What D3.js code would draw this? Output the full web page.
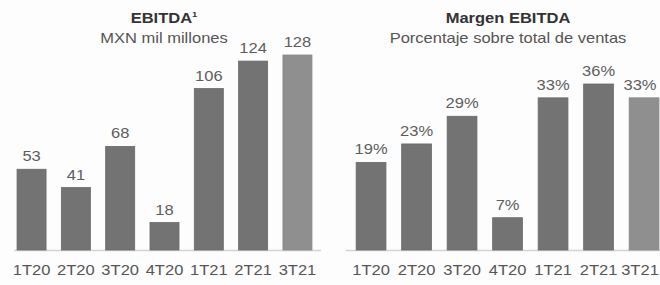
<!DOCTYPE html>
<html>
<head>
<meta charset="utf-8">
<script src="https://cdn.jsdelivr.net/npm/d3@7"></script>
<style>
  body { margin: 0; background: #fdfdfd; }
  svg text { font-family: "Liberation Sans", Arial, sans-serif; }
</style>
</head>
<body>
<svg id="chart" width="660" height="285"></svg>
<script>
// data
const quarters = ["1T20", "2T20", "3T20", "4T20", "1T21", "2T21", "3T21"];
const ebitda = [53, 41, 68, 18, 106, 124, 128];
const margen = [19, 23, 29, 7, 33, 36, 33];
const margenLabels = ["19%", "23%", "29%", "7%", "33%", "36%", "33%"];

const svg = d3.select("#chart");
const W = 660;
const stretch = 1.18; // text in the picture is a bit wide
const baseY = 250;

// helper - text with horizontal stretch around its anchor
function addText(g, x, y, str, size, fill, weight){
    return g.append("text")
        .attr("transform", "translate(" + x + "," + y + ") scale(" + stretch + ",1)")
        .attr("text-anchor", "middle")
        .attr("font-size", size)
        .attr("font-weight", weight || "normal")
        .attr("fill", fill)
        .text(str);
}

function barPanel(opts){
    const g = svg.append("g");
    const x = d3.scaleBand()
        .domain(quarters)
        .range(opts.xRange)
        .paddingInner(0.345)
        .paddingOuter(0.1725);
    const y = d3.scaleLinear()
        .domain([0, opts.max])
        .range([baseY, opts.top]);

    // baseline
    g.append("line")
        .attr("x1", opts.lineX[0]).attr("x2", opts.lineX[1])
        .attr("y1", baseY + 0.5).attr("y2", baseY + 0.5)
        .attr("stroke", "#d4d4d4")
        .attr("stroke-width", 1.5);

    g.selectAll("rect.bar")
        .data(opts.values)
        .join("rect")
            .attr("class", "bar")
            .attr("x", (d, i) => x(quarters[i]))
            .attr("y", d => y(d))
            .attr("width", x.bandwidth())
            .attr("height", d => baseY - y(d))
            .attr("fill", (d, i) => i === quarters.length - 1 ? "#8f8f8f" : "#737373")
            .attr("stroke", (d, i) => i === quarters.length - 1 ? "#888" : "#6a6a6a")
            .attr("stroke-width", 0.8);

    opts.values.forEach((d, i) => {
        const cx = x(quarters[i]) + x.bandwidth() / 2;
        addText(g, Math.min(cx, W - 20), y(d) - 8, opts.labels[i], 14, "#5e5e5e");
        addText(g, Math.min(cx, W - 20), 275, quarters[i], 14, "#555");
    });

    // titles
    const t = addText(g, opts.titleX, 23, opts.title, 14, "#333", "bold");
    if(opts.sup){
        t.append("tspan")
            .attr("font-size", 8)
            .attr("dy", -6)
            .text(opts.sup);
    }
    addText(g, opts.titleX, 43, opts.subtitle, 14, "#555");
    return g;
}

barPanel({
    values: ebitda,
    labels: ebitda.map(String),
    max: 128,
    top: 55,
    xRange: [9.4, 319.6],
    lineX: [14, 321],
    titleX: 164,
    title: "EBITDA",
    sup: "1",
    subtitle: "MXN mil millones"
});

barPanel({
    values: margen,
    labels: margenLabels,
    max: 36,
    top: 84,
    xRange: [348.3, 666.8],
    lineX: [346, 660],
    titleX: 508,
    title: "Margen EBITDA",
    subtitle: "Porcentaje sobre total de ventas"
});
</script>
</body>
</html>
